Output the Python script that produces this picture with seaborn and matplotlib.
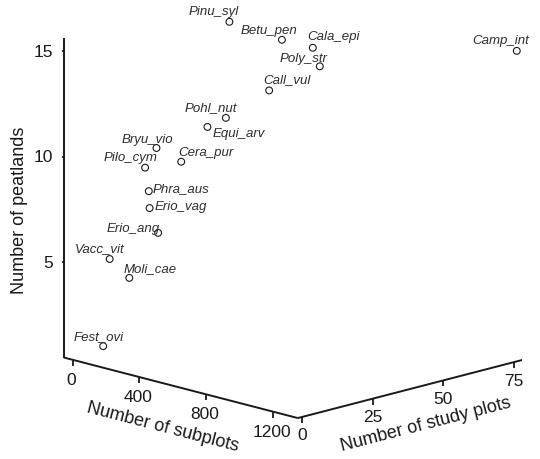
import math
import matplotlib
matplotlib.use("Agg")
import matplotlib.pyplot as plt
import seaborn as sns
from matplotlib.transforms import offset_copy
from mpl_toolkits.mplot3d import proj3d

# Species occurrence: subplots, study plots and peatlands where each was recorded
species = ["Pinu_syl", "Betu_pen", "Cala_epi", "Poly_str", "Camp_int",
           "Call_vul", "Pohl_nut", "Equi_arv", "Bryu_vio", "Cera_pur",
           "Pilo_cym", "Phra_aus", "Erio_vag", "Erio_ang", "Vacc_vit",
           "Moli_cae", "Fest_ovi"]
subplots = [101, 466, 651, 642, 1297, 525, 469, 274, 121, 354,
            70, 109, 63, 131, 44, 77, 56]
study_plots = [48, 45, 45, 48, 79, 37, 25, 30, 21, 16,
               20, 19, 22, 21, 9, 14, 6]
peatlands = [15, 15, 15, 14, 15, 13, 12, 11, 10, 10,
             9, 8, 7, 6, 5, 4, 1]

sub_ticks = [0, 400, 800, 1200]
study_ticks = [0, 25, 50, 75]
peat_ticks = [5, 10, 15]

sub_range = (-53, 1348)
study_range = (-1.5, 81.3)
peat_range = (0.5, 15.64)

# label placement around each point (pixels, right / up)
label_offsets = {
    "Pinu_syl": (-16, 11), "Betu_pen": (-13, 9.5), "Cala_epi": (21, 11.5),
    "Poly_str": (-16, 8), "Camp_int": (-16, 11), "Call_vul": (18, 11),
    "Pohl_nut": (-15, 10.5), "Equi_arv": (31, -6), "Bryu_vio": (-9.5, 9),
    "Cera_pur": (25, 9.5), "Pilo_cym": (-15, 11), "Phra_aus": (32, 3),
    "Erio_vag": (31, 2), "Erio_ang": (-25, 5), "Vacc_vit": (-10, 11),
    "Moli_cae": (20.5, 9.5), "Fest_ovi": (-5, 10),
}

sns.set_theme(style="white")
plt.rcParams["font.family"] = ["Liberation Sans", "DejaVu Sans"]

W, H = 540, 460
fig = plt.figure(figsize=(W / 100, H / 100), dpi=100, facecolor="white")
ax = fig.add_axes([0, 0, 1, 1], projection="3d", proj_type="ortho")
ax.view_init(elev=15, azim=-45)
ax.set_box_aspect((1, 1, 1))
ax.set_xlim(*sub_range)
ax.set_ylim(*study_range)
ax.set_zlim(*peat_range)
ax.set_axis_off()

s0, s1 = sub_range
t0, t1 = study_range
z0, z1 = peat_range


def projected(x, y, z):
    X, Y, _ = proj3d.proj_transform(x, y, z, ax.M)
    return float(X), float(Y)


def screen(x, y, z):
    return ax.transData.transform(projected(x, y, z))


# place the projected box: left corner at (64, 101.5) px, 468 px wide
box_left, box_bottom, box_width = 63.8, 101.5, 468.0
fig.canvas.draw()
pl, pr = screen(s0, t0, z0), screen(s1, t1, z0)
ax.set_box_aspect((1, 1, 1), zoom=box_width / (pr[0] - pl[0]))
fig.canvas.draw()
pl = screen(s0, t0, z0)
pos = ax.get_position(original=True)
ax.set_position([pos.x0 + (box_left - pl[0]) / W,
                 pos.y0 + (box_bottom - pl[1]) / H,
                 pos.width, pos.height])
fig.canvas.draw()

ink = "#1a1a1a"

# axis lines
axis_kw = dict(color=ink, lw=1.4, solid_capstyle="butt")
ax.plot([s0, s0], [t0, t0], [z0, z1], **axis_kw)
ax.plot([s0, s1], [t0, t0], [z0, z0], **axis_kw)
ax.plot([s1, s1], [t0, t1], [z0, z0], **axis_kw)

# tick marks
tick_kw = dict(ls="none", color=ink, markersize=4.5, markeredgewidth=1.3)
ax.plot(sub_ticks, [t0] * len(sub_ticks), [z0] * len(sub_ticks),
        marker=3, **tick_kw)
ax.plot([s1] * len(study_ticks), study_ticks, [z0] * len(study_ticks),
        marker=3, **tick_kw)
ax.plot([s0] * len(peat_ticks), [t0] * len(peat_ticks), peat_ticks,
        marker=0, **tick_kw)


def label_at(x, y, z, s, dx, dy, **kw):
    """Flat text anchored at the projected position of a 3D point."""
    X, Y = projected(x, y, z)
    tr = offset_copy(ax.transData, fig=fig, x=dx, y=dy, units="dots")
    return fig.text(X, Y, s, transform=tr, **kw)


def screen_angle(p, q):
    a, b = screen(*p), screen(*q)
    return math.degrees(math.atan2(b[1] - a[1], b[0] - a[0]))


tick_font = dict(fontsize=12.5, color=ink)
for v in sub_ticks:
    label_at(v, t0, z0, f"{v}", -1.5, -19.5, ha="center", va="center", **tick_font)
for v in study_ticks:
    label_at(s1, v, z0, f"{v}", 0, -18, ha="center", va="center", **tick_font)
for v in peat_ticks:
    label_at(s0, t0, v, f"{v}", -10.5, 0, ha="right", va="center", **tick_font)

title_font = dict(fontsize=13, color=ink, ha="center", va="center")
label_at(s0, t0, (z0 + z1) / 2, "Number of peatlands", -44.3, -11.3,
         rotation=90, **title_font)
label_at((s0 + s1) / 2, t0, z0, "Number of subplots", -18.4, -39,
         rotation=screen_angle((s0, t0, z0), (s1, t0, z0)), **title_font)
label_at(s1, (t0 + t1) / 2, z0, "Number of study plots", 11.2, -36,
         rotation=screen_angle((s1, t0, z0), (s1, t1, z0)), **title_font)

# species points and names
ax.scatter(subplots, study_plots, peatlands, s=24, facecolors="none",
           edgecolors=ink, linewidths=0.8, depthshade=False)
for name, x, y, z in zip(species, subplots, study_plots, peatlands):
    dx, dy = label_offsets[name]
    label_at(x, y, z, name, dx, dy, ha="center", va="center",
             fontsize=9.5, style="italic", color="#2e2e2e")

fig.savefig("out.png", dpi=100, facecolor="white")
